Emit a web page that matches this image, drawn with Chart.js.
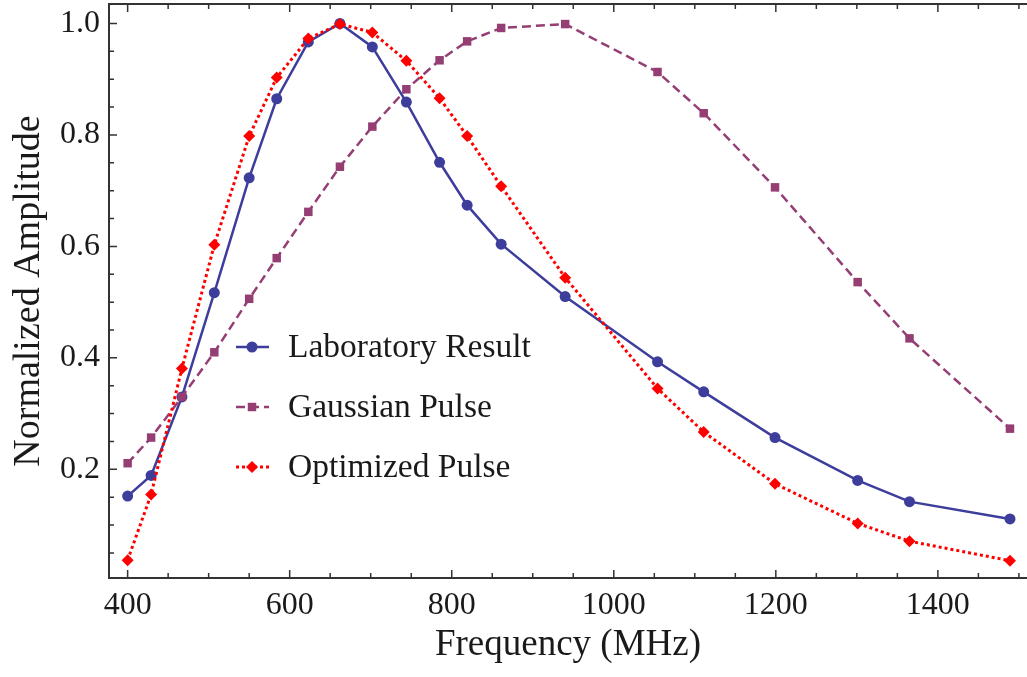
<!DOCTYPE html>
<html>
<head>
<meta charset="utf-8">
<script src="https://cdn.jsdelivr.net/npm/chart.js@4.4.0/dist/chart.umd.min.js"></script>
<style>
  html, body { margin: 0; padding: 0; background: #fff; overflow: hidden; }
  canvas { display: block; }
</style>
</head>
<body>
<canvas id="ampChart" width="1027" height="677"></canvas>
<script>
// frequency points (MHz), shared by the three series
const freqs = [400, 429, 467, 507, 550, 584, 623, 662, 702, 744, 785, 819, 861, 940, 1054, 1111, 1199, 1301, 1365, 1489];
const labResult = [0.152, 0.189, 0.330, 0.517, 0.723, 0.865, 0.967, 1.000, 0.958, 0.859, 0.751, 0.674, 0.604, 0.510, 0.393, 0.339, 0.257, 0.180, 0.142, 0.111];
const gaussianPulse = [0.211, 0.257, 0.330, 0.410, 0.506, 0.579, 0.662, 0.743, 0.815, 0.882, 0.934, 0.968, 0.992, 0.999, 0.913, 0.839, 0.706, 0.536, 0.435, 0.273];
const optimizedPulse = [0.037, 0.155, 0.381, 0.603, 0.798, 0.903, 0.973, 0.999, 0.984, 0.933, 0.866, 0.798, 0.708, 0.544, 0.345, 0.267, 0.174, 0.103, 0.071, 0.036];
const xTicks = [400, 600, 800, 1000, 1200, 1400];
const yTicks = [0.2, 0.4, 0.6, 0.8, 1.0];

const serif = "'Liberation Serif', 'DejaVu Serif', serif";
const ink = '#1a1a1a';

function pairs(ys) {
  return freqs.map((f, i) => ({ x: f, y: ys[i] }));
}

// inward ticks on the frame, like the original plot
const frameTicks = {
  id: 'frameTicks',
  afterDatasetsDraw(chart) {
    const { ctx, chartArea: a, scales } = chart;
    ctx.save();
    ctx.strokeStyle = '#333';
    ctx.lineWidth = 2;
    ctx.beginPath();
    ctx.moveTo(a.left, a.top);
    ctx.lineTo(a.right, a.top);
    ctx.stroke();
    ctx.lineWidth = 1.5;
    ctx.beginPath();
    for (let v = 400; v <= 1500; v += 50) {
      const px = scales.x.getPixelForValue(v);
      const len = v % 200 === 0 ? 8 : 5;
      ctx.moveTo(px, a.bottom);
      ctx.lineTo(px, a.bottom - len);
      ctx.moveTo(px, a.top);
      ctx.lineTo(px, a.top + len);
    }
    for (let k = 1; k <= 20; k++) {
      const py = scales.y.getPixelForValue(k * 0.05);
      const len = k % 4 === 0 ? 8 : 5;
      ctx.moveTo(a.left, py);
      ctx.lineTo(a.left + len, py);
    }
    ctx.stroke();
    ctx.restore();
  }
};

// legend drawn inside the plot: line sample with marker, then label
const insideLegend = {
  id: 'insideLegend',
  afterDraw(chart) {
    const ctx = chart.ctx;
    const rows = [347, 407, 467];
    chart.data.datasets.forEach((ds, i) => {
      const y = rows[i];
      ctx.save();
      ctx.strokeStyle = ds.borderColor;
      ctx.lineWidth = ds.borderWidth;
      ctx.setLineDash(ds.borderDash || []);
      ctx.beginPath();
      ctx.moveTo(236, y);
      ctx.lineTo(269, y);
      ctx.stroke();
      ctx.setLineDash([]);
      ctx.fillStyle = ds.pointBackgroundColor;
      ctx.strokeStyle = ds.pointBackgroundColor;
      Chart.helpers.drawPoint(ctx, { pointStyle: ds.pointStyle, radius: ds.pointRadius, rotation: 0, borderWidth: 0 }, 252, y);
      ctx.fillStyle = ink;
      ctx.font = '33.5px ' + serif;
      ctx.textBaseline = 'middle';
      ctx.fillText(ds.label, 288, y + 1);
      ctx.restore();
    });
  }
};

new Chart(document.getElementById('ampChart'), {
  type: 'line',
  data: {
    datasets: [
      {
        label: 'Laboratory Result',
        data: pairs(labResult),
        borderColor: '#3d3d9c',
        borderWidth: 2.5,
        pointStyle: 'circle',
        pointRadius: 5.5,
        pointBackgroundColor: '#3d3d9c',
        pointBorderWidth: 0,
        order: 3
      },
      {
        label: 'Gaussian Pulse',
        data: pairs(gaussianPulse),
        borderColor: '#953e74',
        borderWidth: 2.5,
        borderDash: [9, 5],
        pointStyle: 'rect',
        pointRadius: 6,
        pointBackgroundColor: '#953e74',
        pointBorderWidth: 0,
        order: 2
      },
      {
        label: 'Optimized Pulse',
        data: pairs(optimizedPulse),
        borderColor: '#ff0000',
        borderWidth: 3,
        borderDash: [3, 3],
        pointStyle: 'rectRot',
        pointRadius: 6,
        pointBackgroundColor: '#ff0000',
        pointBorderWidth: 0,
        order: 1
      }
    ]
  },
  options: {
    responsive: false,
    animation: false,
    layout: { autoPadding: false, padding: { top: 4, left: 0, right: -4, bottom: 0 } },
    plugins: { legend: { display: false }, tooltip: { enabled: false } },
    elements: { line: { tension: 0 } },
    scales: {
      x: {
        type: 'linear',
        min: 377,
        max: 1510,
        afterBuildTicks: s => { s.ticks = xTicks.map(v => ({ value: v })); },
        afterFit: s => { s.height = 99; s.paddingLeft = 0; s.paddingRight = 0; },
        grid: { display: false, drawTicks: false },
        border: { display: true, color: '#333', width: 2 },
        ticks: { color: ink, font: { family: serif, size: 32 }, padding: 8, maxRotation: 0, callback: v => String(v) },
        title: { display: true, text: 'Frequency (MHz)', color: ink, font: { family: serif, size: 37 }, padding: { bottom: 10 } }
      },
      y: {
        min: 0.005,
        max: 1.035,
        afterBuildTicks: s => { s.ticks = yTicks.map(v => ({ value: v })); },
        afterFit: s => { s.width = 109; s.paddingTop = 0; s.paddingBottom = 0; },
        grid: { display: false, drawTicks: false },
        border: { display: true, color: '#333', width: 2 },
        ticks: { color: ink, font: { family: serif, size: 32 }, padding: 9, callback: v => v.toFixed(1) },
        title: { display: true, text: 'Normalized Amplitude', color: ink, font: { family: serif, size: 38 }, padding: { top: 6 } }
      }
    }
  },
  plugins: [frameTicks, insideLegend]
});
</script>
</body>
</html>
